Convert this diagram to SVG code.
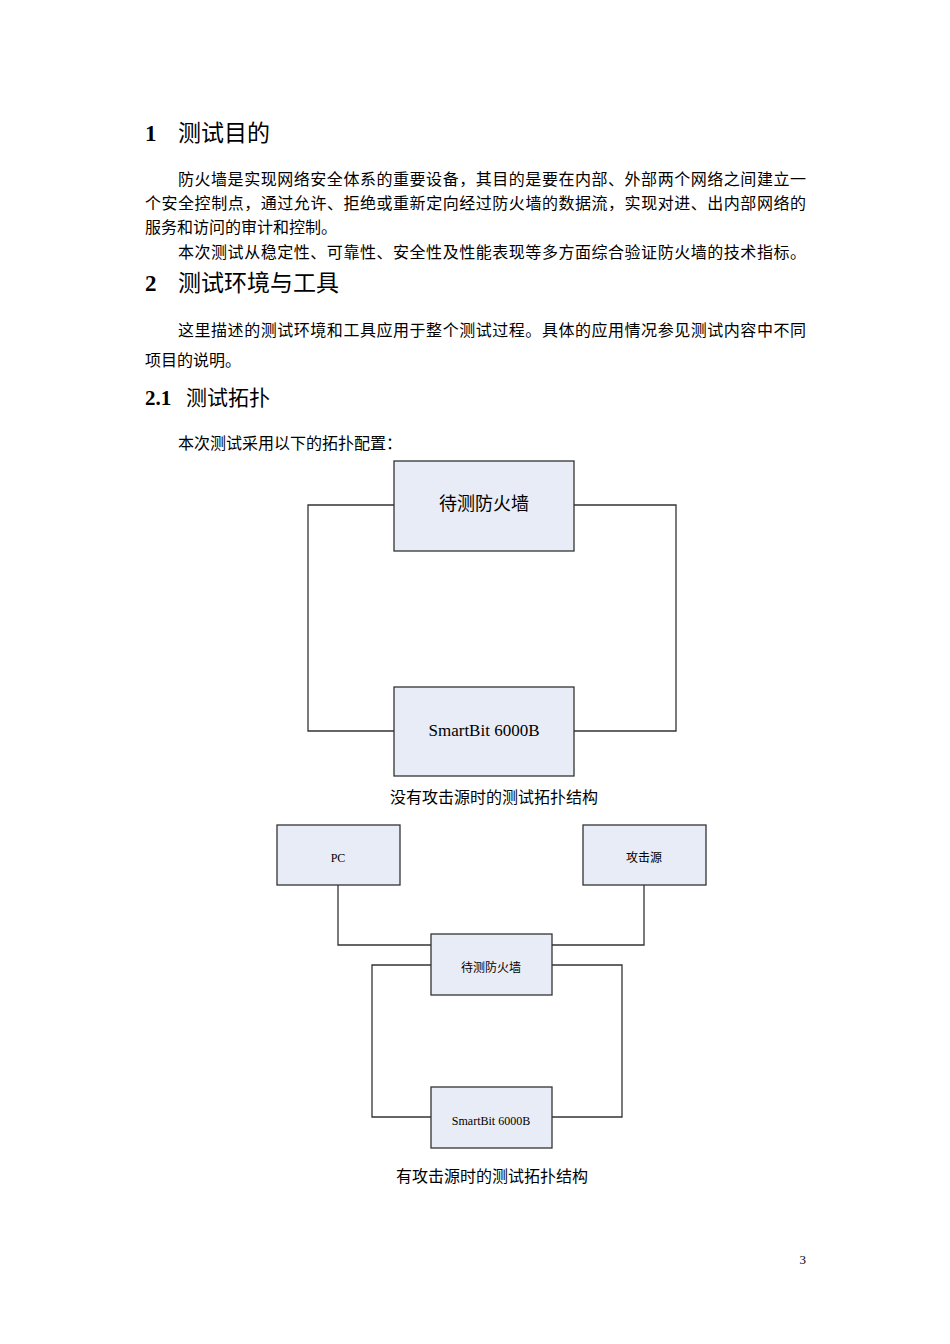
<svg xmlns="http://www.w3.org/2000/svg" width="950" height="1344" viewBox="0 0 950 1344">
<style>
.b{fill:#e8ecf6;stroke:#333;stroke-width:1.3}
.c{fill:none;stroke:#333;stroke-width:1.3}
text{font-family:"Liberation Serif","Noto Sans CJK SC",serif;fill:#000}
.h{font-size:23px}
.p{font-size:16px}
.s{font-size:12px}
</style>
<rect width="950" height="1344" fill="#fff"/>
<text class="h" x="145" y="141"><tspan font-weight="bold">1</tspan><tspan x="178">测试目的</tspan></text>
<text class="p" x="178" y="185" textLength="628" lengthAdjust="spacing">防火墙是实现网络安全体系的重要设备，其目的是要在内部、外部两个网络之间建立一</text>
<text class="p" x="145" y="209" textLength="661" lengthAdjust="spacing">个安全控制点，通过允许、拒绝或重新定向经过防火墙的数据流，实现对进、出内部网络的</text>
<text class="p" x="145" y="233">服务和访问的审计和控制。</text>
<text class="p" x="178" y="258" textLength="628" lengthAdjust="spacing">本次测试从稳定性、可靠性、安全性及性能表现等多方面综合验证防火墙的技术指标。</text>
<text class="h" x="145" y="291"><tspan font-weight="bold">2</tspan><tspan x="178">测试环境与工具</tspan></text>
<text class="p" x="178" y="336" textLength="628" lengthAdjust="spacing">这里描述的测试环境和工具应用于整个测试过程。具体的应用情况参见测试内容中不同</text>
<text class="p" x="145" y="366">项目的说明。</text>
<text x="145" y="405" font-size="21"><tspan font-weight="bold">2.1</tspan><tspan x="186">测试拓扑</tspan></text>
<text class="p" x="178" y="449">本次测试采用以下的拓扑配置：</text>
<g id="connectors">
<path class="c" d="M394 505H308V731H394M574 505H676V731H574"/>
<path class="c" d="M338 885V945H431M644 885V945H552M431 965H372V1117H431M552 965H622V1117H552"/>
</g>
<g id="fw1"><rect class="b" x="394" y="461" width="180" height="90"/><text x="484" y="510" font-size="18" text-anchor="middle">待测防火墙</text></g>
<g id="sb1"><rect class="b" x="394" y="687" width="180" height="89"/><text x="484" y="736" font-size="17" text-anchor="middle">SmartBit 6000B</text></g>
<text class="p" x="494" y="803" text-anchor="middle">没有攻击源时的测试拓扑结构</text>
<g id="pc"><rect class="b" x="277" y="825" width="123" height="60"/><text class="s" x="338" y="862" text-anchor="middle">PC</text></g>
<g id="atk"><rect class="b" x="583" y="825" width="123" height="60"/><text class="s" x="644" y="862" text-anchor="middle">攻击源</text></g>
<g id="fw2"><rect class="b" x="431" y="934" width="121" height="61"/><text class="s" x="491" y="972" text-anchor="middle">待测防火墙</text></g>
<g id="sb2"><rect class="b" x="431" y="1087" width="121" height="61"/><text class="s" x="491" y="1125" text-anchor="middle">SmartBit 6000B</text></g>
<text class="p" x="492" y="1182" text-anchor="middle">有攻击源时的测试拓扑结构</text>
<text x="806" y="1264" font-size="13" text-anchor="end">3</text>
</svg>
